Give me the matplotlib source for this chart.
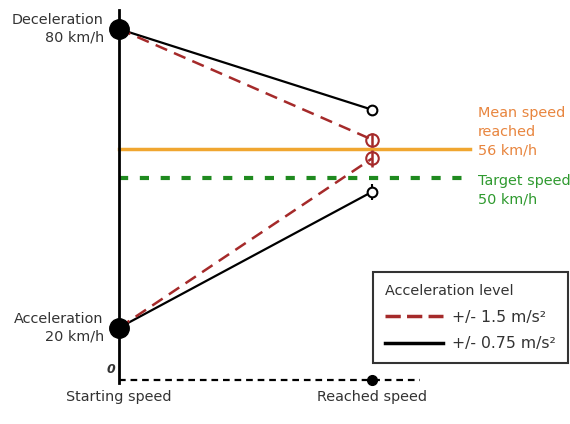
import numpy as np
import matplotlib.pyplot as plt

plt.rcParams['font.family'] = ['DejaVu Sans']

# Data
start_speeds = [80, 20]            # deceleration start, acceleration start (km/h)
start_labels = ['Deceleration\n80 km/h', 'Acceleration\n20 km/h']
reached_fast = [57.8, 54.0]        # +/- 1.5 m/s²  (decel, accel)
reached_fast_err = [1.4, 1.7]
reached_slow = [63.8, 47.3]        # +/- 0.75 m/s²
reached_slow_err = [0.6, 1.6]
mean_speed = 56
target_speed = 50
zero_pos = 9.5                     # where the "0" baseline is drawn (broken axis)
x_labels = ['Starting speed', 'Reached speed']

red = '#a52a2a'
orange = '#f0a630'
orange_txt = '#e8853e'
green = '#1f8a1f'
green_txt = '#2f9a2f'
grey_txt = '#333333'
fs = 10.4

fig = plt.figure(figsize=(5.7, 4.24), dpi=100)
ax = fig.add_axes([0, 0, 1, 1])
ax.set_xlim(-119/253, (570-119)/253)
ax.set_ylim(80 - 395/4.98, 80 + 29/4.98)
ax.axis('off')

# axes lines
ax.plot([0, 0], [zero_pos - 0.5, 83.8], color='black', lw=2, zorder=2)
ax.plot([0, 1.19], [zero_pos, zero_pos], color='black', lw=1.6, ls=(0, (3, 2.2)), zorder=2)
ax.plot([1], [zero_pos], 'o', color='black', ms=7, zorder=3)
ax.text(-0.015, zero_pos + 0.8, '0', ha='right', va='bottom', fontsize=9,
        style='italic', fontweight='bold', color=grey_txt)
ax.text(0, zero_pos - 2.0, x_labels[0], ha='center', va='top', fontsize=fs, color=grey_txt)
ax.text(1, zero_pos - 2.0, x_labels[1], ha='center', va='top', fontsize=fs, color=grey_txt)

# reference lines
ax.plot([0, 1.387], [mean_speed, mean_speed], color=orange, lw=2.5, zorder=1)
ax.plot([0, 1.387], [target_speed, target_speed], color=green, lw=3,
        ls=(0, (2.2, 2.8)), zorder=1)
ax.text(1.418, mean_speed + 3.3, 'Mean speed\nreached\n%d km/h' % mean_speed, ha='left',
        va='center', fontsize=fs, color=orange_txt, linespacing=1.42)
ax.text(1.418, target_speed - 2.35, 'Target speed\n%d km/h' % target_speed, ha='left',
        va='center', fontsize=fs, color=green_txt, linespacing=1.42)

# trajectories
for i, s in enumerate(start_speeds):
    ax.plot([0, 1], [s, reached_slow[i]], color='black', lw=1.6, zorder=4)
    ax.plot([0, 1], [s, reached_fast[i]], color=red, lw=1.8, ls=(0, (5, 3)), zorder=4)
    ax.errorbar([1], [reached_slow[i]], yerr=[reached_slow_err[i]], fmt='o', mfc='white',
                mec='black', ecolor='black', ms=7, mew=1.5, elinewidth=1.5, zorder=5)
    ax.errorbar([1], [reached_fast[i]], yerr=[reached_fast_err[i]], fmt='o', mfc='none',
                mec=red, ecolor=red, ms=9, mew=1.5, elinewidth=1.8, zorder=5)
    ax.plot([0], [s], 'o', color='black', ms=14, zorder=6)
    ax.text(-0.06, s, start_labels[i], ha='right', va='center', fontsize=fs,
            color=grey_txt, linespacing=1.3)

# legend
h1, = ax.plot([], [], color=red, lw=2.5, ls=(0, (4.4, 1.8)))
h2, = ax.plot([], [], color='black', lw=2.5)
leg = ax.legend([h1, h2], ['+/- 1.5 m/s²', '+/- 0.75 m/s²'], title='Acceleration level',
                loc='upper left', bbox_to_anchor=(373/570, 1 - 272/424),
                bbox_transform=fig.transFigure, fontsize=11.3, title_fontsize=10.4,
                frameon=True, fancybox=False, edgecolor='black', handlelength=3.7,
                handletextpad=0.6, alignment='left', borderpad=0.75, labelspacing=0.75,
                borderaxespad=0)
leg.get_frame().set_linewidth(1.5)
for t in leg.get_texts():
    t.set_color(grey_txt)
leg.get_title().set_color(grey_txt)

fig.savefig('out.png', dpi=100)
